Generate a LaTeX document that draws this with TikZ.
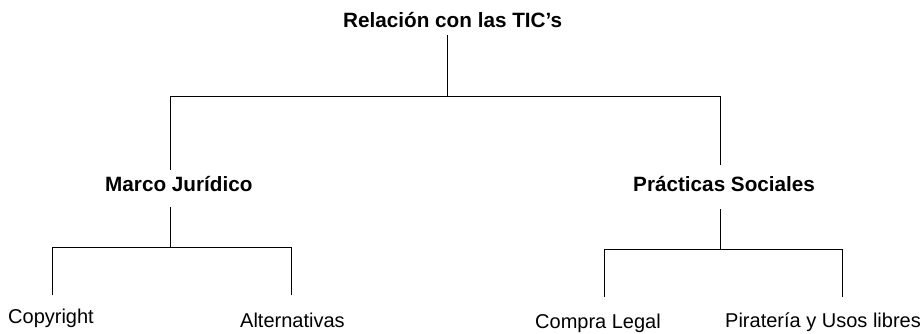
\documentclass[tikz,border=0pt]{standalone}
\usepackage{fontspec}
\setmainfont{Liberation Sans}
\begin{document}
\begin{tikzpicture}[x=1pt,y=-1pt,
  lbl/.style={inner sep=0pt,anchor=base west,font=\fontsize{20}{24}\selectfont},
  head/.style={inner sep=0pt,anchor=base west,font=\fontsize{20.7}{24}\selectfont\bfseries},
  conn/.style={draw=black,line width=1pt}]
\useasboundingbox (0,0) rectangle (923,334);
% nodes
\node[head] (root) at (343,28) {Relación con las TIC\char"0027 s};
\node[head] (marco) at (105,191) {Marco Jurídico};
\node[head] (prac) at (633,191) {Prácticas Sociales};
\node[lbl] (copy) at (8,323) {Copyright};
\node[lbl] (alt) at (240,327) {Alternativas};
\node[lbl] (comp) at (535,328) {Compra Legal};
\node[lbl] (pira) at (725,327) {Piratería y Usos libres};
% attach points
\coordinate (rootB) at (447,35);
\coordinate (rootJ) at (447,97);
\coordinate (marcoT) at (170,170);
\coordinate (marcoB) at (170,207);
\coordinate (marcoJ) at (170,247);
\coordinate (pracT) at (720,165);
\coordinate (pracB) at (720,209);
\coordinate (pracJ) at (720,249);
\coordinate (copyT) at (52,295);
\coordinate (altT) at (291,295);
\coordinate (compT) at (604,297);
\coordinate (piraT) at (842,297);
% connectors
\draw[conn] (rootB) -- (rootJ);
\draw[conn] (rootJ) -| (marcoT);
\draw[conn] (rootJ) -| (pracT);
\draw[conn] (marcoB) -- (marcoJ);
\draw[conn] (marcoJ) -| (copyT);
\draw[conn] (marcoJ) -| (altT);
\draw[conn] (pracB) -- (pracJ);
\draw[conn] (pracJ) -| (compT);
\draw[conn] (pracJ) -| (piraT);
\end{tikzpicture}
\end{document}
